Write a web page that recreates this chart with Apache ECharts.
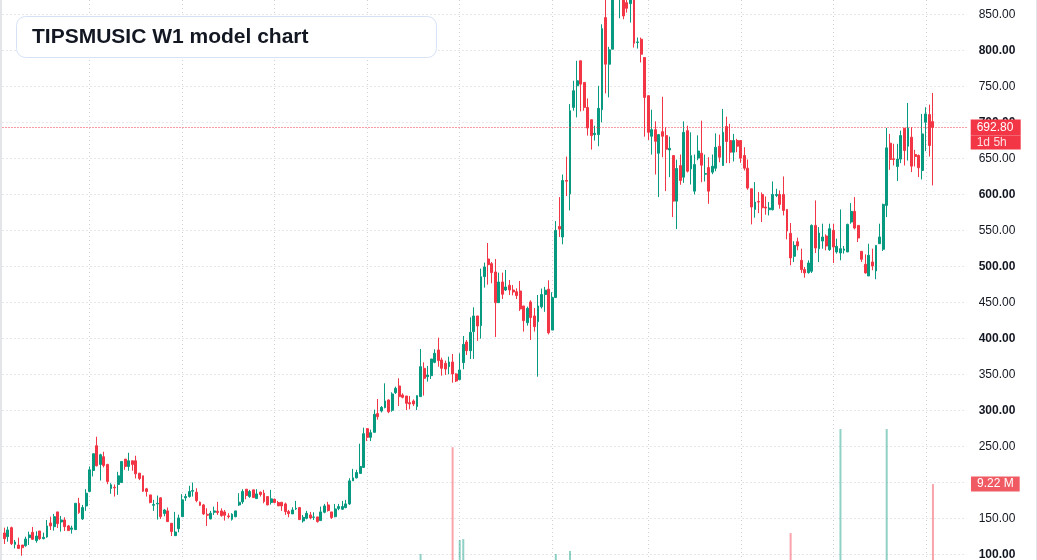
<!DOCTYPE html>
<html>
<head>
<meta charset="utf-8">
<title>TIPSMUSIC W1 model chart</title>
<script src="https://cdn.jsdelivr.net/npm/echarts@6/dist/echarts.min.js"></script>
<style>
  html, body { margin: 0; padding: 0; background: #fff; }
  #chart { width: 1037px; height: 560px; }
  .edge { position: absolute; top: 0; height: 560px; background: #e4e5e9; }
</style>
</head>
<body>
<div id="chart"></div>
<div class="edge" style="left:0;width:2px"></div>
<div class="edge" style="left:1036px;width:1px"></div>
<script>
// weekly candles, [open, high, low, close]
const ohlc = [
  [129.6, 137.0, 114.3, 121.7], [124.5, 138.4, 117.5, 133.8], [137.0, 138.4, 112.9, 114.7], [113.8, 119.9, 108.2, 117.1],
  [112.9, 123.1, 107.3, 108.2], [112.9, 112.9, 98.0, 109.2], [111.9, 124.5, 110.6, 121.2], [123.1, 131.5, 112.9, 126.8],
  [130.5, 138.0, 119.9, 120.8], [118.9, 131.9, 116.1, 125.4], [132.4, 132.4, 119.9, 121.7], [121.7, 130.1, 120.8, 123.6],
  [124.0, 147.7, 123.1, 139.4], [143.5, 152.3, 133.8, 139.4], [138.4, 156.1, 132.9, 152.3], [158.9, 158.9, 136.6, 142.6],
  [144.9, 153.3, 131.5, 147.7], [147.7, 151.4, 132.4, 138.4], [139.4, 140.7, 132.9, 132.9], [134.7, 139.8, 128.7, 136.6],
  [134.3, 170.9, 134.3, 170.9], [170.9, 178.4, 156.1, 157.9], [149.1, 168.6, 147.7, 164.9], [167.2, 190.4, 160.3, 184.9],
  [187.2, 222.0, 187.2, 217.4], [216.4, 239.7, 208.1, 239.7], [250.8, 263.3, 222.0, 223.0], [224.8, 239.7, 202.5, 238.3],
  [235.5, 242.4, 220.6, 223.4], [224.8, 225.7, 197.4, 201.1], [191.4, 198.8, 184.0, 196.5], [193.2, 197.0, 180.2, 192.3],
  [197.0, 214.6, 182.5, 209.0], [199.7, 229.4, 199.7, 229.0], [232.2, 232.2, 217.4, 222.0], [222.0, 241.0, 216.0, 229.9],
  [229.9, 229.9, 216.0, 224.8], [229.9, 236.9, 205.3, 211.8], [212.7, 212.7, 203.0, 205.3], [209.0, 209.0, 186.7, 187.6],
  [190.9, 192.3, 180.2, 187.2], [182.5, 182.5, 170.9, 171.9], [168.1, 175.6, 160.3, 169.1], [170.0, 181.6, 148.2, 170.9],
  [178.4, 179.3, 149.1, 152.3], [156.5, 163.0, 152.8, 161.6], [160.3, 165.0, 144.9, 145.4], [143.1, 143.1, 125.4, 131.5],
  [125.9, 158.9, 125.4, 131.0], [135.6, 155.1, 130.5, 150.5], [152.3, 183.5, 152.3, 175.6], [178.4, 184.0, 174.2, 180.2],
  [180.2, 195.1, 178.8, 187.2], [187.6, 199.7, 180.2, 188.6], [186.3, 191.8, 172.3, 174.6], [172.3, 173.3, 167.2, 168.1],
  [168.6, 170.0, 154.7, 156.1], [155.6, 163.9, 139.4, 154.2], [149.1, 160.3, 148.6, 157.0], [158.4, 166.3, 154.7, 160.3],
  [159.8, 172.8, 154.7, 157.9], [160.3, 163.9, 152.3, 153.7], [158.9, 161.6, 146.8, 154.2], [153.3, 157.0, 149.6, 152.3],
  [148.6, 157.0, 146.8, 155.6], [152.3, 160.3, 151.4, 160.3], [168.6, 184.9, 167.2, 172.3], [172.8, 190.4, 170.0, 187.2],
  [190.4, 190.4, 176.5, 181.6], [180.2, 189.5, 178.4, 187.2], [189.5, 189.5, 178.4, 178.8], [177.4, 190.4, 177.4, 183.9],
  [186.3, 187.2, 180.2, 183.0], [184.9, 189.5, 170.9, 173.3], [180.2, 180.2, 168.1, 168.6], [171.9, 189.5, 169.1, 177.0],
  [176.5, 177.4, 170.9, 171.9], [171.9, 174.2, 167.2, 167.2], [172.3, 172.3, 160.3, 167.2], [170.0, 171.9, 154.7, 159.3],
  [159.3, 161.6, 151.4, 156.5], [156.1, 165.4, 156.1, 161.6], [163.0, 174.2, 161.6, 163.9], [164.9, 164.9, 147.7, 148.2],
  [146.3, 154.7, 144.0, 151.4], [150.0, 160.3, 148.6, 157.0], [154.7, 158.9, 148.6, 150.5], [151.4, 158.4, 147.7, 151.9],
  [151.9, 152.3, 144.0, 145.4], [146.8, 166.3, 146.8, 158.9], [158.4, 170.0, 157.0, 167.2], [168.6, 172.8, 159.3, 160.7],
  [158.9, 158.9, 149.1, 151.0], [152.3, 170.0, 151.4, 163.0], [163.5, 170.0, 161.2, 166.3], [162.6, 174.2, 161.6, 166.3],
  [164.9, 175.6, 164.0, 170.0], [170.0, 205.7, 168.6, 202.0], [202.0, 218.7, 202.0, 206.2], [206.2, 217.4, 205.3, 213.6],
  [212.3, 253.6, 212.3, 222.0], [220.6, 275.9, 220.6, 267.5], [274.5, 275.4, 257.3, 262.4], [262.4, 273.1, 257.3, 268.9],
  [269.4, 300.9, 269.4, 294.4], [295.4, 315.7, 287.0, 291.2], [299.0, 306.0, 297.0, 304.1], [303.7, 337.5, 302.8, 313.0],
  [314.3, 315.2, 296.0, 298.0], [300.0, 325.0, 298.0, 322.7], [324.5, 332.9, 322.7, 330.5], [333.8, 344.4, 306.0, 319.0],
  [321.3, 323.6, 316.6, 318.0], [319.9, 319.9, 300.4, 309.7], [310.6, 319.9, 301.4, 308.8], [313.0, 315.2, 306.0, 308.8],
  [305.1, 320.4, 300.4, 320.4], [319.0, 385.2, 319.0, 360.6], [358.3, 366.6, 320.4, 344.4], [346.7, 361.6, 339.8, 349.0],
  [348.1, 371.3, 343.5, 371.3], [366.6, 384.7, 365.3, 379.2], [383.8, 400.9, 360.6, 369.0], [369.9, 373.1, 348.1, 358.3],
  [365.3, 369.0, 349.1, 357.4], [360.6, 374.5, 350.0, 367.1], [367.1, 378.2, 338.4, 350.5], [350.5, 351.4, 339.3, 340.7],
  [342.6, 379.2, 342.6, 356.0], [366.2, 403.2, 357.0, 391.6], [394.9, 397.7, 376.8, 382.8], [382.8, 429.2, 371.3, 408.3],
  [409.3, 443.0, 371.3, 431.0], [431.0, 431.0, 396.3, 417.1], [417.6, 496.8, 399.5, 485.6], [485.6, 505.1, 470.4, 499.1],
  [510.2, 532.4, 474.5, 502.3], [503.7, 506.0, 476.4, 491.2], [492.1, 510.2, 401.8, 449.5], [449.5, 491.2, 449.5, 478.2],
  [478.2, 491.2, 454.6, 461.1], [467.1, 494.9, 465.7, 471.3], [473.6, 481.0, 460.2, 467.1], [467.1, 474.1, 459.7, 464.3],
  [464.8, 469.4, 454.6, 459.3], [465.7, 479.6, 438.0, 440.7], [444.9, 444.9, 409.3, 424.5], [421.7, 444.0, 417.6, 441.6],
  [450.5, 452.8, 397.7, 428.7], [431.0, 442.1, 409.3, 416.2], [423.1, 460.2, 346.7, 444.9], [443.7, 469.1, 441.4, 460.8],
  [460.8, 471.4, 436.8, 466.8], [468.2, 480.6, 405.4, 407.7], [411.4, 464.0, 411.4, 456.6], [456.6, 562.8, 456.6, 549.9],
  [555.4, 596.1, 540.7, 551.7], [540.7, 627.5, 530.5, 619.2], [619.2, 652.4, 597.5, 618.2], [600.7, 725.3, 577.6, 716.1],
  [720.7, 757.7, 716.1, 743.8], [750.7, 785.4, 706.9, 757.7], [785.4, 785.4, 715.2, 753.0], [755.4, 755.4, 716.1, 720.7],
  [720.7, 733.2, 681.5, 692.1], [703.6, 703.6, 662.1, 681.5], [682.9, 695.3, 674.6, 684.7], [682.9, 750.7, 666.7, 719.4],
  [717.5, 836.1, 699.9, 830.1], [845.4, 878.0, 740.1, 780.7], [780.7, 804.8, 734.6, 800.6], [801.5, 892.0, 801.5, 882.0],
  [885.0, 915.0, 875.0, 905.0], [872.0, 898.0, 844.5, 890.0], [885.0, 895.0, 843.1, 847.7], [866.2, 872.0, 852.3, 858.3],
  [864.8, 878.0, 838.5, 872.0], [875.0, 882.0, 803.8, 809.8], [810.8, 817.7, 802.4, 811.7], [815.4, 817.7, 783.1, 794.6],
  [790.0, 790.0, 680.1, 734.6], [736.9, 737.8, 675.5, 686.1], [680.6, 717.5, 655.2, 689.8], [689.8, 701.3, 627.5, 673.6],
  [657.0, 683.8, 596.1, 682.9], [687.0, 735.5, 651.5, 680.6], [681.5, 693.0, 604.4, 662.6], [661.6, 680.1, 623.8, 663.9],
  [653.8, 653.8, 568.4, 590.5], [590.5, 648.2, 551.7, 635.8], [639.9, 655.2, 613.2, 619.2], [623.8, 701.3, 615.9, 686.1],
  [688.4, 695.3, 630.2, 632.1], [635.3, 686.1, 613.6, 653.8], [604.4, 655.2, 599.8, 641.3], [650.4, 681.9, 647.3, 660.1],
  [657.0, 702.3, 616.8, 640.4], [627.9, 655.2, 617.8, 628.8], [637.2, 651.5, 586.8, 604.4], [630.7, 655.2, 627.9, 639.0],
  [636.2, 684.7, 632.1, 665.3], [666.7, 682.9, 644.5, 651.5], [640.0, 718.6, 640.0, 686.2], [694.1, 707.9, 643.3, 673.3],
  [674.7, 697.8, 643.3, 658.5], [658.5, 683.9, 645.6, 674.7], [674.7, 677.0, 658.5, 666.8], [674.7, 674.7, 643.7, 650.2],
  [653.9, 665.4, 633.1, 636.3], [636.3, 648.3, 606.3, 608.6], [607.7, 607.7, 558.2, 582.3], [579.0, 616.9, 567.5, 589.2],
  [590.1, 603.1, 573.9, 589.2], [599.8, 602.6, 561.5, 581.3], [582.3, 597.0, 571.6, 580.9], [578.6, 589.2, 570.7, 580.9],
  [578.6, 617.8, 577.6, 599.8], [598.4, 607.7, 596.1, 599.8], [599.8, 605.4, 580.0, 586.0], [599.8, 624.8, 570.7, 577.6],
  [579.0, 579.0, 537.4, 549.0], [545.8, 560.1, 501.4, 511.6], [513.9, 534.7, 506.0, 529.1], [534.2, 539.8, 522.2, 528.2],
  [508.3, 524.5, 490.8, 495.4], [495.4, 499.1, 484.3, 490.8], [491.2, 508.3, 489.8, 504.6], [493.1, 558.2, 490.8, 556.8],
  [556.8, 591.5, 518.5, 525.4], [524.5, 554.5, 506.0, 546.2], [535.1, 559.2, 524.5, 540.7], [542.1, 544.4, 522.2, 528.2],
  [523.1, 559.2, 521.3, 552.2], [549.9, 559.2, 504.6, 526.8], [519.9, 538.4, 517.6, 527.7], [518.5, 579.0, 508.3, 524.5],
  [522.2, 528.2, 517.6, 524.0], [519.9, 559.2, 519.9, 558.2], [561.5, 587.8, 559.2, 576.3], [576.3, 596.1, 551.3, 553.1],
  [556.8, 556.8, 533.7, 539.3], [520.8, 520.8, 506.0, 509.7], [502.8, 516.6, 489.8, 490.8], [486.6, 531.4, 486.6, 515.3],
  [506.0, 524.5, 494.5, 500.5], [493.5, 529.1, 482.0, 529.1], [531.4, 559.2, 531.4, 540.7], [523.6, 586.9, 521.3, 586.0],
  [584.6, 692.2, 568.4, 664.5], [671.0, 683.9, 634.0, 648.3], [649.3, 670.1, 640.0, 648.3], [638.6, 670.1, 618.3, 648.9],
  [648.9, 688.5, 643.3, 681.6], [691.8, 691.8, 640.0, 660.8], [666.8, 726.9, 646.9, 691.8], [679.3, 693.2, 630.8, 639.1],
  [655.3, 661.7, 638.6, 652.5], [653.9, 655.3, 623.9, 636.8], [633.1, 711.6, 620.6, 683.9], [700.1, 720.9, 659.9, 711.6],
  [710.7, 724.6, 652.5, 667.8], [701.0, 740.8, 612.3, 692.8]
];

// weekly volume in millions (most weeks too small to see)
const volume = [
  0, 0, 0, 0, 0, 0, 0, 0, 0, 0, 0, 0, 0, 0, 0, 0, 0, 0, 0, 0,
  0, 0, 0, 0, 0, 0, 0, 0, 0, 0, 0, 0, 0, 0, 0, 0, 0, 0, 0, 0,
  0, 0, 0, 0, 0, 0, 0, 0, 0, 0, 0, 0, 0, 0, 0, 0, 0, 0, 0, 0,
  0, 0, 0, 0, 0, 0, 0, 0, 0, 0, 0, 0, 0, 0, 0, 0, 0, 0, 0, 0,
  0, 0, 0, 0, 0, 0, 0, 0, 0, 0, 0, 0, 0, 0, 0, 0, 0, 0, 0, 0,
  0, 0, 0, 0, 0, 0, 0, 0, 0, 0, 0, 0, 0, 0, 0, 0, 0, 0.73, 0, 0,
  0, 0, 0, 0, 0, 0, 13.7, 0, 2.42, 2.54, 0, 0, 0, 0, 0, 0, 0, 0, 0, 0,
  0, 0, 0, 0, 0, 0, 0, 0, 0, 0, 0, 0, 0, 0, 0, 0.73, 0, 0, 0, 1.09,
  0, 0, 0, 0, 0, 0, 0, 0, 0, 0, 0, 0, 0, 0, 0, 0, 0, 0, 0, 0,
  0, 0, 0, 0, 0, 0, 0, 0, 0, 0, 0, 0, 0, 0, 0, 0, 0, 0, 0, 0,
  0, 0, 0, 0, 0, 0, 0, 0, 0, 0, 0, 0, 0, 0, 0, 0, 0, 0, 0, 0,
  0, 3.27, 0, 0, 0, 0, 0, 0, 0, 0, 0, 0, 0, 0, 0, 15.9, 0, 0, 0, 0,
  0, 0, 0, 0, 0, 0, 0, 0, 15.9, 0, 0, 0, 0, 0, 0, 0, 0, 0, 0, 0,
  0, 9.22
];

const lastPrice = 692.8;
const lastVolume = 9.22;
const countdown = '1d 5h';
const blankWeeks = 9;                 // empty space right of the last candle
const halfYearMarks = [24, 50, 76, 102, 128, 154, 181, 207, 233, 259];

const weeks = ohlc.map((_, i) => 'W' + (i + 1));
for (let i = 0; i < blankWeeks; i++) weeks.push('');

const UP = '#089981';
const DOWN = '#f23645';
const FONT = 'Liberation Sans, Arial, sans-serif';

const candleData = ohlc.map(d => [d[0], d[3], d[2], d[1]]);
const volData = volume.map((v, i) => ({
  value: v,
  itemStyle: { color: ohlc[i][3] >= ohlc[i][0] ? 'rgba(8,153,129,0.45)' : 'rgba(242,54,69,0.45)' }
}));

const chart = echarts.init(document.getElementById('chart'));

chart.setOption({
  animation: false,
  title: {
    text: 'TIPSMUSIC W1 model chart',
    left: 16,
    top: 16,
    padding: [9, 128, 9, 16],
    backgroundColor: '#ffffff',
    borderColor: '#d6e2f5',
    borderWidth: 1,
    borderRadius: 9,
    textStyle: { fontFamily: FONT, fontSize: 21, fontWeight: 'bold', color: '#131722', lineHeight: 24 }
  },
  grid: [
    { left: 2.5, right: 70.3, top: 14.3, bottom: 5.7, outerBoundsMode: 'none' },
    { left: 4.28, right: 72.02, top: 0, bottom: 0, outerBoundsMode: 'none' }
  ],
  xAxis: [
    {
      type: 'category', gridIndex: 0, data: weeks, boundaryGap: true,
      axisLine: { show: false }, axisTick: { show: false }, axisLabel: { show: false },
      splitLine: { show: false }
    },
    {
      type: 'category', gridIndex: 1, data: weeks, boundaryGap: false,
      axisLine: { show: false }, axisTick: { show: false }, axisLabel: { show: false },
      splitLine: {
        show: true,
        interval: (idx) => halfYearMarks.includes(idx),
        lineStyle: { color: '#cfd1d6', type: [1, 3], width: 1 }
      }
    }
  ],
  yAxis: [
    {
      type: 'value', gridIndex: 0, position: 'right',
      min: 100, max: 850, interval: 50,
      axisLine: { show: false }, axisTick: { show: false },
      axisLabel: {
        margin: 12,
        color: '#131722',
        fontFamily: FONT,
        fontSize: 12,
        formatter: v => (v % 100 === 0 ? '{b|' : '{n|') + v.toFixed(2) + '}',
        rich: {
          b: { fontWeight: 'bold', fontSize: 12, fontFamily: FONT, color: '#131722' },
          n: { fontSize: 12, fontFamily: FONT, color: '#131722' }
        }
      },
      splitLine: { show: true, lineStyle: { color: '#cfd1d6', type: [1, 3], width: 1 } }
    },
    {
      type: 'value', gridIndex: 1, min: 0, max: 68, show: false,
      splitLine: { show: false }
    }
  ],
  series: [
    {
      name: 'Volume',
      type: 'bar',
      xAxisIndex: 1,
      yAxisIndex: 1,
      barWidth: 2,
      data: volData,
      markLine: {
        silent: true,
        symbol: 'none',
        lineStyle: { color: 'rgba(0,0,0,0)', width: 1 },
        data: [{ yAxis: lastVolume }],
        label: {
          show: true,
          position: 'end',
          distance: 6,
          formatter: lastVolume.toFixed(2) + ' M',
          backgroundColor: '#ef5a63',
          color: '#ffffff',
          fontFamily: FONT,
          fontSize: 12,
          lineHeight: 13,
          padding: [1, 6, 1, 6]
        }
      }
    },
    {
      name: 'TIPSMUSIC',
      type: 'candlestick',
      xAxisIndex: 0,
      yAxisIndex: 0,
      clip: false,
      barWidth: 2.4,
      data: candleData,
      itemStyle: {
        color: UP,
        color0: DOWN,
        borderColor: UP,
        borderColor0: DOWN,
        borderWidth: 1
      },
      markLine: {
        silent: true,
        symbol: 'none',
        lineStyle: { color: DOWN, type: [1, 2], width: 1 },
        data: [{ yAxis: lastPrice }],
        label: {
          show: true,
          position: 'end',
          distance: 4,
          formatter: '{s| }\n{a|' + lastPrice.toFixed(2) + '}\n{b|' + countdown + '}',
          rich: {
            s: { fontSize: 12, lineHeight: 14, height: 14 },
            a: {
              backgroundColor: DOWN, color: '#ffffff', fontFamily: FONT, fontSize: 12,
              lineHeight: 16, height: 16, width: 38, padding: [0, 6, 0, 6]
            },
            b: {
              backgroundColor: DOWN, color: 'rgba(255,255,255,0.85)', fontFamily: FONT, fontSize: 12,
              lineHeight: 14, height: 14, width: 38, padding: [0, 6, 0, 6]
            }
          }
        }
      }
    }
  ]
});
</script>
</body>
</html>
